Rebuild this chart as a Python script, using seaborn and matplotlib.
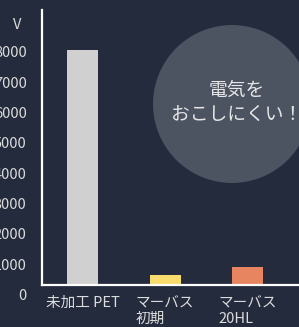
import matplotlib
matplotlib.use("Agg")
import matplotlib.pyplot as plt
import matplotlib.transforms as mtransforms
from matplotlib.patches import Circle
import pandas as pd
import seaborn as sns

# datos
categorias = ["未加工 PET", "マーバス\n初期", "マーバス\n20HL"]
valores = [7750, 330, 590]
colores = ["#d0d0d0", "#f9dc6e", "#e88561"]
ticks_y = [0, 1000, 2000, 3000, 4000, 5000, 6000, 7000, 8000]
unidad = "V"
mensaje = "電気を\nおこしにくい！"

fondo = "#232b3c"
texto = "#dcdcdc"

sns.set_style("dark", {"axes.facecolor": fondo, "figure.facecolor": fondo})
plt.rcParams["font.family"] = ["Noto Sans CJK JP", "DejaVu Sans"]

df = pd.DataFrame({"material": categorias, "voltaje": valores})

fig = plt.figure(figsize=(2.99, 3.27), dpi=100)
ax = fig.add_axes([42 / 299, 42 / 327, 257 / 299, 275 / 327])

# circulo de fondo (en pixeles)
circulo = Circle((232, 327 - 104), 79, transform=mtransforms.IdentityTransform(),
                 facecolor="#4c5361", edgecolor="none", zorder=0, clip_on=False)
ax.add_artist(circulo)

sns.barplot(data=df, x="material", y="voltaje", hue="material",
            palette=colores, width=0.375, legend=False, ax=ax, zorder=2,
            linewidth=0, edgecolor="none", saturation=1)

ax.set_xlim(-0.49, 2.62)
ax.set_ylim(0, 9050)
ax.set_yticks(ticks_y)
ax.set_yticklabels([str(t) for t in ticks_y])
ax.set_xlabel("")
ax.set_ylabel("")
ax.grid(False)

for s in ["top", "right"]:
    ax.spines[s].set_visible(False)
for s in ["left", "bottom"]:
    ax.spines[s].set_visible(True)
    ax.spines[s].set_color("white")
    ax.spines[s].set_linewidth(1.6)

ax.tick_params(axis="y", length=0, pad=11, labelsize=10.5, labelcolor=texto)
ax.tick_params(axis="x", length=0, pad=8, labelsize=10.5, labelcolor=texto)

# etiquetas del eje y desplazadas hacia abajo como en el original
desplazar = mtransforms.ScaledTranslation(0, -7 / 72, fig.dpi_scale_trans)
for lab in ax.get_yticklabels():
    lab.set_transform(lab.get_transform() + desplazar)
for lab in ax.get_xticklabels():
    lab.set_multialignment("left")
    lab.set_linespacing(1.2)

fig.text(17 / 299, 1 - 25 / 327, unidad, color=texto, fontsize=10.5,
         ha="center", va="center")
fig.text(237 / 299, 1 - 102 / 327, mensaje, color="#e6e6e6", fontsize=13.5,
         ha="center", va="center", multialignment="center", linespacing=1.2)

fig.savefig("out.png", dpi=100, facecolor=fondo)
